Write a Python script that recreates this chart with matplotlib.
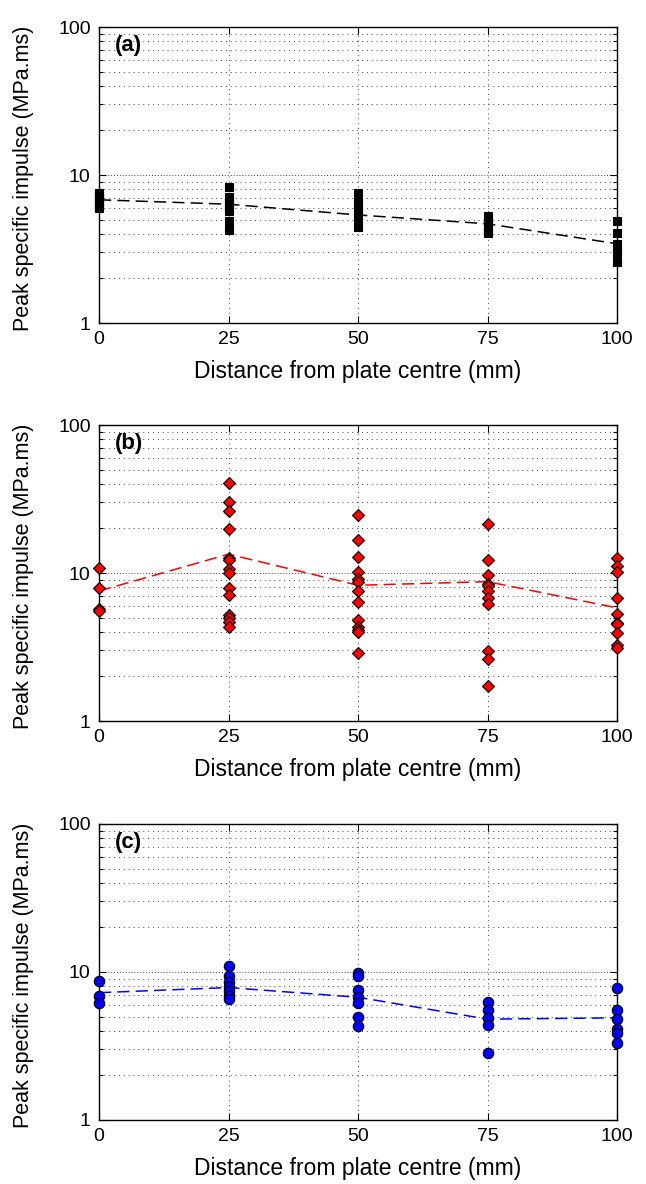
import matplotlib
matplotlib.use('Agg')
import matplotlib.pyplot as plt
from matplotlib.ticker import FixedLocator, NullFormatter, FixedFormatter

plt.rcParams['font.family'] = ['Liberation Sans', 'DejaVu Sans']

# ---------------- data ----------------
distance_mm = [0, 25, 50, 75, 100]
x_ticks = [0, 25, 50, 75, 100]
y_ticks = [1, 10, 100]
y_tick_labels = ['1', '10', '100']
y_minor = [2, 3, 4, 5, 6, 7, 8, 9, 20, 30, 40, 50, 60, 70, 80, 90]
panel_labels = ['(a)', '(b)', '(c)']
x_label = 'Distance from plate centre (mm)'
y_label = 'Peak specific impulse (MPa.ms)'

# panel (a) - squares
impulse_a_0 = [7.6, 7.3, 7.0, 6.8, 6.5, 6.2, 6.0]
impulse_a_25 = [8.3, 7.15, 6.6, 6.1, 5.75, 4.9, 4.25]
impulse_a_50 = [7.6, 6.6, 6.1, 5.65, 5.25, 4.85, 4.45]
impulse_a_75 = [5.25, 4.9, 4.6, 4.25, 4.05]
impulse_a_100 = [4.9, 4.05, 3.4, 3.15, 2.95, 2.58]
mean_a = [6.8, 6.35, 5.37, 4.68, 3.43]

# panel (b) - diamonds
impulse_b_0 = [10.75, 7.9, 5.7, 5.5]
impulse_b_25 = [40.4, 30.3, 26.3, 19.8, 12.7, 12.2, 10.7, 10.05, 7.9, 7.1,
                5.2, 5.0, 4.7, 4.3]
impulse_b_50 = [24.6, 16.8, 12.8, 10.2, 9.05, 8.7, 7.5, 6.35, 4.8, 4.35,
                4.15, 4.0, 2.87]
impulse_b_75 = [21.3, 12.3, 9.7, 8.45, 8.15, 7.55, 6.75, 6.15, 2.96, 2.61, 1.73]
impulse_b_100 = [12.7, 11.1, 10.1, 6.8, 5.25, 4.6, 4.5, 3.95, 3.27, 3.1]
mean_b = [7.56, 13.4, 8.26, 8.74, 5.81]

# panel (c) - circles
impulse_c_0 = [8.65, 6.9, 6.15]
impulse_c_25 = [10.9, 9.4, 8.55, 7.95, 7.45, 6.9, 6.55]
impulse_c_50 = [9.9, 9.4, 7.5, 6.75, 6.15, 4.95, 4.3]
impulse_c_75 = [6.25, 5.55, 4.9, 4.4, 2.82]
impulse_c_100 = [7.8, 5.55, 4.85, 4.15, 3.9, 3.3]
mean_c = [7.25, 7.85, 6.75, 4.8, 4.9]

panels = [
    dict(values=[impulse_a_0, impulse_a_25, impulse_a_50, impulse_a_75, impulse_a_100],
         mean=mean_a, marker='s', ms=5.5, face='black', line='black'),
    dict(values=[impulse_b_0, impulse_b_25, impulse_b_50, impulse_b_75, impulse_b_100],
         mean=mean_b, marker='D', ms=6.0, face='#ff0000', line='#ff0000'),
    dict(values=[impulse_c_0, impulse_c_25, impulse_c_50, impulse_c_75, impulse_c_100],
         mean=mean_c, marker='o', ms=7.5, face='#0000ff', line='#0000ff'),
]

# ---------------- figure ----------------
W, H = 646, 1184
fig = plt.figure(figsize=(W / 100, H / 100), dpi=100)

ax_left, ax_right = 99, 617
ax_tops = [27, 425, 824]
ax_h = 296

for p, top, lab in zip(panels, ax_tops, panel_labels):
    ax = fig.add_axes([ax_left / W, 1 - (top + ax_h) / H,
                       (ax_right - ax_left) / W, ax_h / H])
    ax.set_yscale('log')
    ax.set_xlim(0, 100)
    ax.set_ylim(1, 100)

    # grid
    for xv in x_ticks[1:-1]:
        ax.axvline(xv, color='0.25', lw=0.7, ls=(0, (1, 4)), zorder=0)
    for yv in y_minor:
        ax.axhline(yv, color='0.25', lw=0.7, ls=(0, (1, 4)), zorder=0)
    ax.axhline(10, color='0.25', lw=0.7, ls=(0, (1, 2)), zorder=0)

    # points
    for xv, vals in zip(distance_mm, p['values']):
        ax.plot([xv] * len(vals), vals, linestyle='none', marker=p['marker'],
                ms=p['ms'], mfc=p['face'], mec='black', mew=0.8,
                clip_on=False, zorder=3)
    # mean line
    ax.plot(distance_mm, p['mean'], color=p['line'], lw=1.1,
            dashes=(8, 4), zorder=2)

    ax.xaxis.set_major_locator(FixedLocator(x_ticks))
    ax.yaxis.set_major_locator(FixedLocator(y_ticks))
    ax.yaxis.set_major_formatter(FixedFormatter(y_tick_labels))
    ax.yaxis.set_minor_locator(FixedLocator(y_minor))
    ax.yaxis.set_minor_formatter(NullFormatter())
    ax.xaxis.set_minor_locator(FixedLocator([]))
    ax.tick_params(which='both', direction='in', top=True, right=True,
                   labelsize=14, width=0.8, pad=6)
    ax.tick_params(which='major', length=5)
    ax.tick_params(which='minor', length=3)
    for s in ax.spines.values():
        s.set_linewidth(1.0)

    ax.set_xlabel(x_label, fontsize=16.5)
    ax.xaxis.set_label_coords(0.5, -0.125)
    ax.xaxis.label.set_va('top')
    ax.set_ylabel(y_label, fontsize=15.5)
    ax.yaxis.set_label_coords(-0.125, 0.49)

    ax.text(0.031, 0.936, lab, transform=ax.transAxes, fontsize=16,
            fontweight='bold', ha='left', va='center')

fig.savefig('out.png', dpi=100)
